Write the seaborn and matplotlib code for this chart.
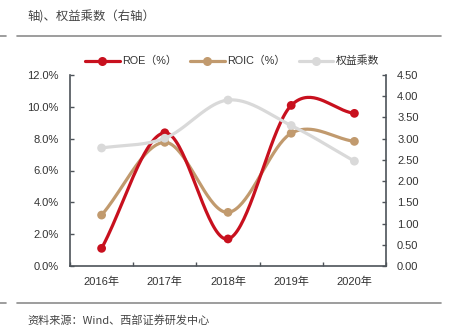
import numpy as np
import pandas as pd
import matplotlib
matplotlib.use("Agg")
import matplotlib.pyplot as plt
from matplotlib.lines import Line2D
import seaborn as sns

years = ["2016年", "2017年", "2018年", "2019年", "2020年"]
roe = [1.11, 8.37, 1.70, 10.09, 9.59]
roic = [3.20, 7.77, 3.37, 8.34, 7.83]
equity_mult = [2.78, 3.01, 3.91, 3.31, 2.47]
left_ticks = [0, 2, 4, 6, 8, 10, 12]
right_ticks = [0, 0.5, 1.0, 1.5, 2.0, 2.5, 3.0, 3.5, 4.0, 4.5]
series_names = ["ROE（%）", "ROIC（%）", "权益乘数"]
title_text = "轴)、权益乘数（右轴）"
source_text = "资料来源：Wind、西部证券研发中心"

sns.set_style("ticks")
plt.rcParams["font.family"] = ["Liberation Sans", "Noto Sans CJK SC", "DejaVu Sans"]

C_ROE = "#C8101E"
C_ROIC = "#C19A6E"
C_EQ = "#D9D9D9"
AX_COL = "#4D5359"
TXT = "#333333"


def catmull(xs, ys, n=40):
    xs = np.asarray(xs, float)
    ys = np.asarray(ys, float)
    k = len(xs)
    m = np.zeros(k)
    for i in range(k):
        if i == 0:
            m[i] = (ys[1] - ys[0]) / (xs[1] - xs[0])
        elif i == k - 1:
            m[i] = (ys[-1] - ys[-2]) / (xs[-1] - xs[-2])
        else:
            m[i] = (ys[i + 1] - ys[i - 1]) / (xs[i + 1] - xs[i - 1])
    ox, oy = [], []
    for i in range(k - 1):
        h = xs[i + 1] - xs[i]
        t = np.linspace(0, 1, n, endpoint=(i == k - 2))
        h00 = 2 * t**3 - 3 * t**2 + 1
        h10 = t**3 - 2 * t**2 + t
        h01 = -2 * t**3 + 3 * t**2
        h11 = t**3 - t**2
        ox.append(xs[i] + t * h)
        oy.append(h00 * ys[i] + h10 * h * m[i] + h01 * ys[i + 1] + h11 * h * m[i + 1])
    return np.concatenate(ox), np.concatenate(oy)


xpos = np.arange(len(years))

fig = plt.figure(figsize=(4.5, 3.34), dpi=100)
ax = fig.add_axes([70 / 450, 68 / 334, 316 / 450, 191 / 334])
ax2 = ax.twinx()

MS = 40
for vals, col in [(roic, C_ROIC), (roe, C_ROE)]:
    sx, sy = catmull(xpos, vals)
    sns.lineplot(x=sx, y=sy, ax=ax, color=col, linewidth=2.3, sort=False, zorder=3)
    sns.scatterplot(x=xpos, y=vals, ax=ax, color=col, s=MS, edgecolor="none", zorder=4)

sx, sy = catmull(xpos, equity_mult)
sns.lineplot(x=sx, y=sy, ax=ax2, color=C_EQ, linewidth=2.3, sort=False, zorder=3)
sns.scatterplot(x=xpos, y=equity_mult, ax=ax2, color=C_EQ, s=MS, edgecolor="none", zorder=4)

ax.set_xlim(-0.5, len(years) - 0.5)
ax.set_ylim(0, 12)
ax2.set_ylim(0, 4.5)
ax.set_yticks(left_ticks)
ax.set_yticklabels([f"{v:.1f}%" for v in left_ticks])
ax2.set_yticks(right_ticks)
ax2.set_yticklabels([f"{v:.2f}" for v in right_ticks])
ax.set_xticks(xpos)
ax.set_xticklabels(years)
ax.set_xticks(np.arange(-0.5, len(years), 1.0), minor=True)
ax.tick_params(axis="x", which="major", length=0, pad=8, labelsize=8, colors=TXT)
ax.tick_params(axis="x", which="minor", length=3, direction="in", color=AX_COL, width=1)
ax.tick_params(axis="y", length=3, direction="in", pad=8, labelsize=8, colors=TXT, color=AX_COL, width=1)
ax2.tick_params(axis="y", length=3, direction="in", pad=8, labelsize=8, colors=TXT, color=AX_COL, width=1)
ax.set_xlabel("")
ax.set_ylabel("")
ax2.set_ylabel("")

for a in (ax, ax2):
    a.spines["top"].set_visible(False)
    for s in ("left", "right", "bottom"):
        a.spines[s].set_color(AX_COL)
        a.spines[s].set_linewidth(1.2)
ax.spines["right"].set_visible(False)
ax2.spines["left"].set_visible(False)
ax2.spines["bottom"].set_visible(False)

handles = [
    Line2D([], [], color=C_ROE, lw=2.3, marker="o", ms=6.5, mec="none"),
    Line2D([], [], color=C_ROIC, lw=2.3, marker="o", ms=6.5, mec="none"),
    Line2D([], [], color=C_EQ, lw=2.3, marker="o", ms=6.5, mec="none"),
]
leg = fig.legend(handles, series_names, loc="center", bbox_to_anchor=(232 / 450, 1 - 61 / 334),
                 ncol=3, frameon=False, fontsize=7.8, handlelength=3.2, handletextpad=0.2,
                 columnspacing=1.25, borderaxespad=0)
for t in leg.get_texts():
    t.set_color(TXT)
    if t.get_text() == "权益乘数":
        t.set_family(["Noto Sans CJK SC"])

fig.text(27 / 450, 1 - 17 / 334, title_text, fontsize=8.9, color="#444444",
         family=["Noto Sans CJK SC"], va="center", ha="left")
fig.text(27 / 450, 1 - 320 / 334, source_text, fontsize=8.0, color="#444444",
         family=["Noto Sans CJK SC", "Liberation Sans"], va="center", ha="left")

for yy in (36, 303):
    fig.add_artist(Line2D([0, 6 / 450], [1 - yy / 334] * 2, color="#8C8C8C", lw=1.2))
    fig.add_artist(Line2D([17 / 450, 441 / 450], [1 - yy / 334] * 2, color="#8C8C8C", lw=1.2))

fig.savefig("out.png", dpi=100)
